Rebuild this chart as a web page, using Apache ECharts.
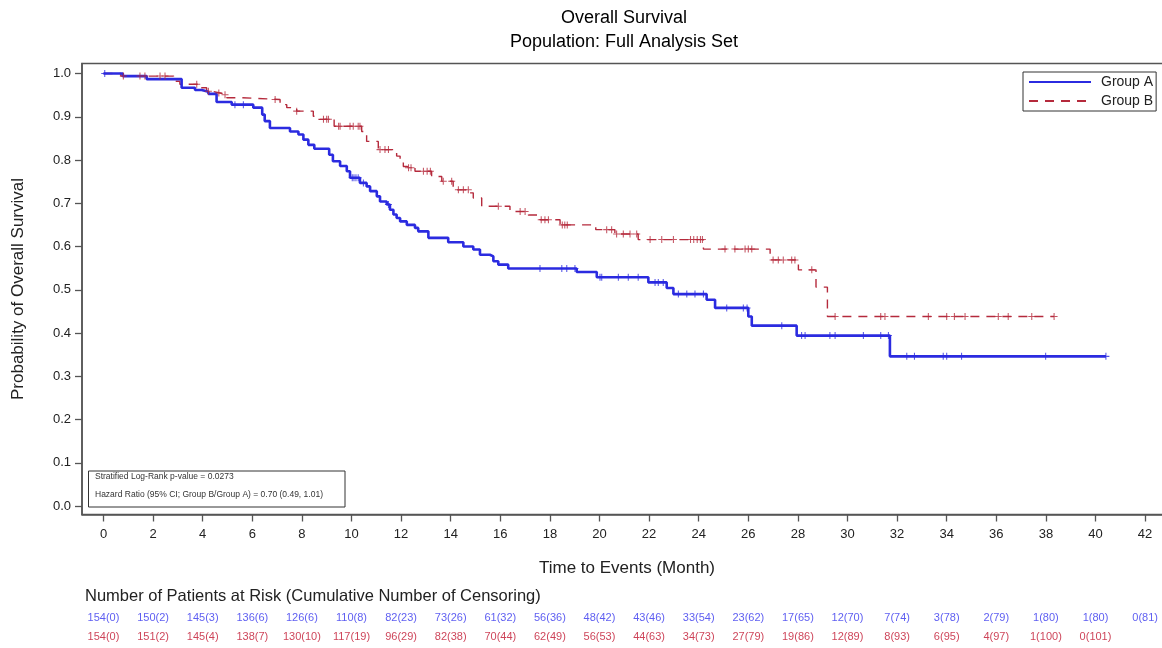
<!DOCTYPE html>
<html><head><meta charset="utf-8">
<script src="https://cdn.jsdelivr.net/npm/echarts@6/dist/echarts.min.js"></script>
<style>html,body{margin:0;padding:0;background:#fff}#c{width:1162px;height:648px}</style>
</head><body><div id="c"></div>
<script>
// ---- Data ----
const groupATime = [0, 0.78, 1.74, 3.15, 3.69, 3.96, 4.23, 4.56, 5.17, 6.04, 6.4, 6.5, 6.71, 7.52, 7.86, 8.06, 8.26, 8.5, 9.1, 9.25, 9.54, 9.81, 9.94, 10.34, 10.61, 10.75, 11.02, 11.15, 11.42, 11.55, 11.69, 11.82, 11.96, 12.23, 12.56, 12.69, 13.1, 13.9, 14.51, 14.91, 15.18, 15.58, 15.72, 15.92, 16.32, 19.08, 19.89, 21.97, 22.71, 22.98, 24.32, 24.66, 26.0, 26.14, 27.95, 31.71];
const groupASurv = [1.0, 0.994, 0.987, 0.967, 0.962, 0.958, 0.953, 0.934, 0.928, 0.921, 0.905, 0.890, 0.874, 0.866, 0.859, 0.847, 0.835, 0.826, 0.812, 0.797, 0.786, 0.774, 0.759, 0.747, 0.739, 0.728, 0.716, 0.704, 0.697, 0.685, 0.674, 0.666, 0.658, 0.650, 0.643, 0.635, 0.620, 0.610, 0.600, 0.593, 0.581, 0.577, 0.566, 0.558, 0.549, 0.541, 0.529, 0.517, 0.504, 0.490, 0.477, 0.458, 0.438, 0.417, 0.394, 0.346];
const groupACensorTime = [0.05, 5.3, 5.64, 10.03, 10.1, 10.18, 10.27, 10.48, 11.49, 17.6, 18.48, 18.68, 19.01, 20.02, 20.09, 20.76, 21.16, 21.56, 22.24, 22.37, 22.57, 23.18, 23.52, 23.85, 24.19, 25.13, 25.8, 25.95, 27.35, 28.15, 28.29, 29.29, 29.5, 30.64, 31.34, 31.65, 32.39, 32.7, 33.86, 34.0, 34.6, 37.99, 40.42];

const groupBTime = [0, 0.7, 2.83, 3.08, 3.89, 4.16, 4.36, 4.7, 4.97, 5.57, 7.12, 7.39, 7.79, 8.46, 8.6, 9.3, 10.41, 10.61, 11.08, 11.69, 11.82, 11.96, 12.09, 12.23, 12.56, 13.23, 13.64, 14.1, 14.78, 14.91, 15.25, 16.39, 17.13, 17.6, 18.41, 19.85, 20.62, 21.56, 24.19, 26.88, 28.02, 28.73, 29.19];
const groupBSurv = [1.0, 0.994, 0.982, 0.975, 0.967, 0.959, 0.955, 0.951, 0.944, 0.940, 0.928, 0.921, 0.913, 0.901, 0.894, 0.878, 0.866, 0.843, 0.824, 0.816, 0.809, 0.793, 0.785, 0.782, 0.774, 0.762, 0.751, 0.731, 0.724, 0.712, 0.693, 0.681, 0.673, 0.662, 0.650, 0.639, 0.629, 0.616, 0.594, 0.569, 0.546, 0.506, 0.438];
const groupBCensorTime = [0.8, 1.47, 1.67, 2.28, 2.48, 3.76, 4.23, 4.65, 4.9, 6.92, 7.79, 8.87, 9.0, 9.07, 9.48, 9.54, 9.94, 10.07, 10.27, 10.34, 11.15, 11.35, 11.49, 12.3, 12.4, 12.9, 13.05, 13.18, 13.7, 14.04, 14.31, 14.51, 14.71, 15.92, 16.8, 17.0, 17.65, 17.8, 17.94, 18.5, 18.6, 18.7, 20.29, 20.49, 20.69, 20.96, 21.23, 21.5, 22.04, 22.51, 22.98, 23.67, 23.8, 23.94, 24.07, 24.15, 25.06, 25.46, 25.87, 26.0, 26.14, 27.0, 27.21, 27.41, 27.75, 27.88, 28.56, 29.5, 31.34, 31.51, 33.26, 34.0, 34.31, 34.74, 36.08, 36.48, 37.43, 38.33];

const xTickValues = [0, 2, 4, 6, 8, 10, 12, 14, 16, 18, 20, 22, 24, 26, 28, 30, 32, 34, 36, 38, 40, 42];
const yTickValues = [0, 0.1, 0.2, 0.3, 0.4, 0.5, 0.6, 0.7, 0.8, 0.9, 1.0];

const riskMonths = [0, 2, 4, 6, 8, 10, 12, 14, 16, 18, 20, 22, 24, 26, 28, 30, 32, 34, 36, 38, 40, 42];
const groupARisk = [154, 150, 145, 136, 126, 110, 82, 73, 61, 56, 48, 43, 33, 23, 17, 12, 7, 3, 2, 1, 1, 0];
const groupACens = [0, 2, 3, 6, 6, 8, 23, 26, 32, 36, 42, 46, 54, 62, 65, 70, 74, 78, 79, 80, 80, 81];
const groupBRisk = [154, 151, 145, 138, 130, 117, 96, 82, 70, 62, 56, 44, 34, 27, 19, 12, 8, 6, 4, 1, 0];
const groupBCens = [0, 2, 4, 7, 10, 19, 29, 38, 44, 49, 53, 63, 73, 79, 86, 89, 93, 95, 97, 100, 101];

// ---- Helpers ----
function stepSeries(times, survs, endTime) {
  const d = times.map((t, i) => [t, survs[i]]);
  if (endTime > times[times.length - 1]) d.push([endTime, survs[survs.length - 1]]);
  return d;
}
function survAt(times, survs, t) {
  let s = survs[0];
  for (let i = 0; i < times.length; i++) { if (times[i] <= t) s = survs[i]; }
  return s;
}
const FONT = "'Liberation Sans', Arial, sans-serif";
const BLUE = '#2b2be0';
const RED = '#b52a3c';
const BLUE_TXT = '#3535ee';
const RED_TXT = '#c0142e';
const plus = 'path://M-0.15,-1H0.15V-0.15H1V0.15H0.15V1H-0.15V0.15H-1V-0.15H-0.15Z';

const GL = 82, GW = 1090;
const XMIN = (GL - 103.5) / 24.8, XMAX = (GL + GW - 103.5) / 24.8;

const chart = echarts.init(document.getElementById('c'), null, {renderer: 'canvas'});
chart.setOption({
  animation: false,
  backgroundColor: '#fff',
  textStyle: {fontFamily: FONT},
  grid: [
    {left: GL, top: 63.5, width: GW, height: 451, show: true, borderColor: '#555', borderWidth: 1.5, backgroundColor: 'transparent', outerBoundsMode: 'none', containLabel: false},
    {left: GL, top: 608, width: GW, height: 38, outerBoundsMode: 'none', containLabel: false}
  ],
  xAxis: [
    {type: 'value', gridIndex: 0, min: XMIN, max: XMAX,
     name: 'Time to Events (Month)', nameLocation: 'middle', nameGap: 45,
     nameTextStyle: {fontSize: 17, color: '#222', fontFamily: FONT},
     axisLine: {onZero: false, lineStyle: {color: '#555', width: 1.5}},
     axisTick: {show: true, length: 7, customValues: xTickValues, lineStyle: {color: '#555', width: 1.3}},
     axisLabel: {customValues: xTickValues, margin: 13, fontSize: 13, color: '#222', fontFamily: FONT},
     splitLine: {show: false}},
    {type: 'value', gridIndex: 1, min: XMIN, max: XMAX, show: false}
  ],
  yAxis: [
    {type: 'value', gridIndex: 0, min: -8.5 / 432.5, max: 1 + 10 / 432.5,
     name: 'Probability of Overall Survival', nameLocation: 'middle', nameGap: 55, nameRotate: 90,
     nameTextStyle: {fontSize: 17, color: '#222', fontFamily: FONT},
     axisLine: {onZero: false, lineStyle: {color: '#555', width: 1.5}},
     axisTick: {show: true, length: 7, customValues: yTickValues, lineStyle: {color: '#555', width: 1.3}},
     axisLabel: {customValues: yTickValues, margin: 11, fontSize: 13, color: '#222', fontFamily: FONT,
                 formatter: v => Number(v).toFixed(1)},
     splitLine: {show: false}},
    {type: 'category', gridIndex: 1, data: ['A', 'B'], inverse: true, show: false}
  ],
  legend: {
    data: ['Group A', 'Group B'], orient: 'vertical', left: 1023, top: 72,
    itemWidth: 62, itemHeight: 10, itemGap: 5, padding: [3, 3, 3, 5],
    borderColor: '#333', borderWidth: 1, backgroundColor: '#fff',
    itemStyle: {opacity: 0},
    textStyle: {fontSize: 14, color: '#222', lineHeight: 10, fontFamily: FONT, padding: [0, 0, 0, 5]}
  },
  graphic: [
    {type: 'text', x: 624, y: 18, style: {text: 'Overall Survival', font: "18px 'Liberation Sans', Arial", fill: '#000', textAlign: 'center', textVerticalAlign: 'middle'}},
    {type: 'text', x: 624, y: 42, style: {text: 'Population: Full Analysis Set', font: "18px 'Liberation Sans', Arial", fill: '#000', textAlign: 'center', textVerticalAlign: 'middle'}},
    {type: 'text', x: 85, y: 596, style: {text: 'Number of Patients at Risk (Cumulative Number of Censoring)', font: "16.5px 'Liberation Sans', Arial", fill: '#222', textAlign: 'left', textVerticalAlign: 'middle'}},
    {type: 'rect', shape: {x: 88.5, y: 471, width: 256.5, height: 36}, style: {fill: '#fff', stroke: '#333', lineWidth: 1}, z: 10},
    {type: 'text', x: 95, y: 476.5, z: 11, style: {text: 'Stratified Log-Rank p-value = 0.0273', font: "8.5px 'Liberation Sans', Arial", fill: '#333', textAlign: 'left', textVerticalAlign: 'middle'}},
    {type: 'text', x: 95, y: 494.5, z: 11, style: {text: 'Hazard Ratio (95% CI; Group B/Group A) = 0.70 (0.49, 1.01)', font: "8.5px 'Liberation Sans', Arial", fill: '#333', textAlign: 'left', textVerticalAlign: 'middle'}}
  ],
  series: [
    {name: 'Group A', type: 'line', xAxisIndex: 0, yAxisIndex: 0, step: 'end', symbol: 'none', z: 3,
     color: BLUE, lineStyle: {color: BLUE, width: 2.6},
     data: stepSeries(groupATime, groupASurv, groupACensorTime[groupACensorTime.length - 1])},
    {name: 'Group B', type: 'line', xAxisIndex: 0, yAxisIndex: 0, step: 'end', symbol: 'none', z: 2,
     color: RED, lineStyle: {color: RED, width: 1.4, type: [9, 7]},
     data: stepSeries(groupBTime, groupBSurv, groupBCensorTime[groupBCensorTime.length - 1])},
    {name: 'A censored', type: 'scatter', xAxisIndex: 0, yAxisIndex: 0, symbol: plus, symbolSize: 7, z: 4,
     itemStyle: {color: BLUE},
     data: groupACensorTime.map(t => [t, survAt(groupATime, groupASurv, t)])},
    {name: 'B censored', type: 'scatter', xAxisIndex: 0, yAxisIndex: 0, symbol: plus, symbolSize: 7, z: 3,
     itemStyle: {color: RED},
     data: groupBCensorTime.map(t => [t, survAt(groupBTime, groupBSurv, t)])},
    {name: 'A at risk', type: 'scatter', xAxisIndex: 1, yAxisIndex: 1, symbolSize: 1, itemStyle: {color: 'transparent'},
     label: {show: true, position: 'inside', fontSize: 11, color: BLUE_TXT, fontFamily: FONT,
             formatter: p => groupARisk[p.dataIndex] + '(' + groupACens[p.dataIndex] + ')'},
     data: riskMonths.slice(0, groupARisk.length).map(m => [m, 'A'])},
    {name: 'B at risk', type: 'scatter', xAxisIndex: 1, yAxisIndex: 1, symbolSize: 1, itemStyle: {color: 'transparent'},
     label: {show: true, position: 'inside', fontSize: 11, color: RED_TXT, fontFamily: FONT,
             formatter: p => groupBRisk[p.dataIndex] + '(' + groupBCens[p.dataIndex] + ')'},
     data: riskMonths.slice(0, groupBRisk.length).map(m => [m, 'B'])}
  ]
});
</script>
</body></html>
